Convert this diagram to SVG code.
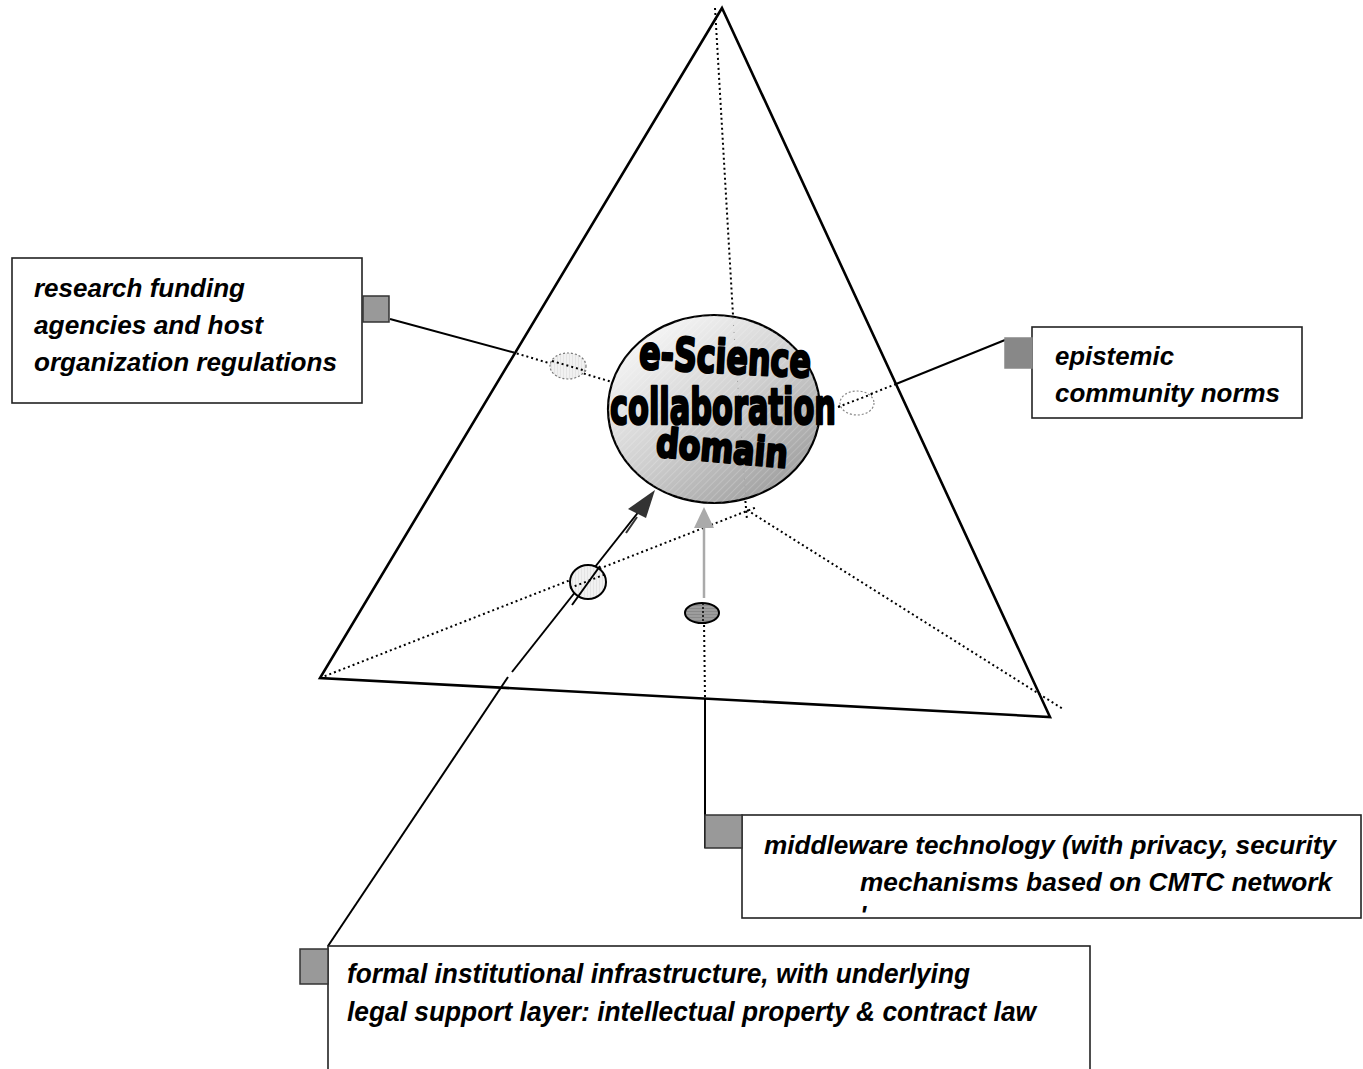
<svg xmlns="http://www.w3.org/2000/svg" width="1363" height="1069" viewBox="0 0 1363 1069">
<style>
.lbl{font-family:"Liberation Sans",Arial,sans-serif;font-weight:bold;font-style:italic;fill:#000}
.box{fill:#fff;stroke:#222;stroke-width:1.6}
.sq{fill:#999;stroke:#333;stroke-width:1.5}
.solid{stroke:#000;stroke-width:2;fill:none}
.dot{stroke:#000;stroke-width:2;fill:none;stroke-dasharray:2 3}
.sph{font-family:"DejaVu Sans","Liberation Sans",sans-serif;font-weight:bold;fill:#000;stroke:#000;stroke-width:2.6;stroke-linejoin:round}
</style>
<defs>
<linearGradient id="sg" x1="0.15" y1="0.1" x2="0.85" y2="0.95">
<stop offset="0" stop-color="#f6f6f6"/>
<stop offset="0.5" stop-color="#cfcfcf"/>
<stop offset="1" stop-color="#9c9c9c"/>
</linearGradient>
<pattern id="diag" width="5" height="5" patternUnits="userSpaceOnUse" patternTransform="rotate(45)">
<line x1="0" y1="0" x2="0" y2="5" stroke="#fff" stroke-width="0.8" stroke-opacity="0.45"/>
</pattern>
<pattern id="vstr" width="3" height="3" patternUnits="userSpaceOnUse">
<rect width="3" height="3" fill="#e4e4e4"/>
<line x1="1" y1="0" x2="1" y2="3" stroke="#fff" stroke-width="1"/>
</pattern>
<pattern id="hstr" width="3" height="3" patternUnits="userSpaceOnUse">
<rect width="3" height="3" fill="#8a8a8a"/>
<line x1="0" y1="1" x2="3" y2="1" stroke="#b0b0b0" stroke-width="1"/>
</pattern>
</defs>

<g id="triangle">
<polygon points="722,8 320,678 1050,717" fill="none" stroke="#000" stroke-width="2.6" stroke-linejoin="miter"/>
</g>

<g id="connectors">
<line class="dot" x1="715" y1="8" x2="733" y2="315"/>
<line class="dot" x1="320" y1="678" x2="757" y2="507"/>
<line class="dot" x1="747" y1="510" x2="1063" y2="709"/>
<line class="dot" x1="745" y1="496" x2="747" y2="520"/>
<line class="solid" x1="390" y1="319" x2="512" y2="352"/>
<line class="dot" x1="512" y1="352" x2="612" y2="382"/>
<line class="solid" x1="1005" y1="340" x2="896" y2="384"/>
<line class="dot" x1="896" y1="384" x2="838" y2="407"/>
<line class="dot" x1="704" y1="620" x2="705" y2="698"/>
<line class="solid" x1="705" y1="698" x2="705" y2="848"/>
<line x1="704" y1="598" x2="704" y2="526" stroke="#aaa" stroke-width="2.5"/>
<polygon points="704,507 694,528 714,528" fill="#aaa"/>
<line class="solid" x1="328" y1="946" x2="508" y2="677"/>
<line class="solid" x1="512" y1="672" x2="640" y2="510"/>
<line x1="626" y1="533" x2="637" y2="517" stroke="#333" stroke-width="2"/>
<polygon points="655,490 628,509 646,518" fill="#333"/>
</g>

<g id="markers">
<ellipse cx="568" cy="366" rx="18" ry="13" fill="url(#vstr)" stroke="#777" stroke-width="1.2" stroke-dasharray="2 2"/>
<line class="dot" x1="552" y1="361" x2="586" y2="371"/>
<ellipse cx="857" cy="403" rx="17" ry="12" fill="#fff" stroke="#888" stroke-width="1.2" stroke-dasharray="2 2"/>
<line class="dot" x1="838" y1="407" x2="872" y2="394"/>
<ellipse cx="588" cy="582" rx="18" ry="17" fill="url(#vstr)" stroke="#000" stroke-width="2"/>
<line class="solid" x1="572" y1="605" x2="600" y2="566"/>
<line class="dot" x1="570" y1="588" x2="606" y2="574"/>
<ellipse cx="702" cy="613" rx="17" ry="10" fill="url(#hstr)" stroke="#000" stroke-width="2"/>
<line x1="703" y1="603" x2="703" y2="623" stroke="#000" stroke-width="1.5" stroke-dasharray="2 2"/>
</g>

<g id="sphere">
<ellipse cx="714" cy="409" rx="106" ry="94" fill="url(#sg)" stroke="#000" stroke-width="2.2"/>
<ellipse cx="714" cy="409" rx="106" ry="94" fill="url(#diag)"/>
<line x1="733" y1="318" x2="746" y2="500" stroke="#999" stroke-width="1" stroke-dasharray="1 6"/>
<text class="sph" x="639" y="373" font-size="46" textLength="172" lengthAdjust="spacingAndGlyphs" transform="rotate(3 725 360)">e-Science</text>
<text class="sph" x="610" y="424" font-size="50" textLength="226" lengthAdjust="spacingAndGlyphs">collaboration</text>
<text class="sph" x="656" y="462" font-size="40" textLength="132" lengthAdjust="spacingAndGlyphs" transform="rotate(5 722 450)">domain</text>
</g>

<g id="node-research">
<rect class="box" x="12" y="258" width="350" height="145"/>
<rect class="sq" x="363" y="296" width="26" height="26"/>
<text class="lbl" x="34" y="297" font-size="26" textLength="211" lengthAdjust="spacingAndGlyphs">research funding</text>
<text class="lbl" x="34" y="334" font-size="26" textLength="229" lengthAdjust="spacingAndGlyphs">agencies and host</text>
<text class="lbl" x="34" y="371" font-size="26" textLength="303" lengthAdjust="spacingAndGlyphs">organization regulations</text>
</g>

<g id="node-epistemic">
<rect class="box" x="1032" y="327" width="270" height="91"/>
<rect class="sq" x="1005" y="338" width="27" height="30" style="fill:#888;stroke:#888"/>
<text class="lbl" x="1055" y="365" font-size="26" textLength="119" lengthAdjust="spacingAndGlyphs">epistemic</text>
<text class="lbl" x="1055" y="402" font-size="26" textLength="225" lengthAdjust="spacingAndGlyphs">community norms</text>
</g>

<g id="node-middleware">
<rect class="box" x="742" y="815" width="619" height="103"/>
<rect class="sq" x="705" y="815" width="37" height="33"/>
<text class="lbl" x="764" y="854" font-size="26" textLength="572" lengthAdjust="spacingAndGlyphs">middleware technology (with privacy, security</text>
<text class="lbl" x="860" y="891" font-size="26" textLength="472" lengthAdjust="spacingAndGlyphs">mechanisms based on CMTC network</text>
<text class="lbl" x="860" y="924" font-size="26">'</text>
</g>

<g id="node-formal">
<rect class="box" x="328" y="946" width="762" height="140"/>
<rect class="sq" x="300" y="949" width="28" height="35"/>
<text class="lbl" x="347" y="983" font-size="28" textLength="623" lengthAdjust="spacingAndGlyphs">formal institutional infrastructure, with underlying</text>
<text class="lbl" x="347" y="1021" font-size="28" textLength="689" lengthAdjust="spacingAndGlyphs">legal support layer: intellectual property &amp; contract law</text>
</g>
</svg>
